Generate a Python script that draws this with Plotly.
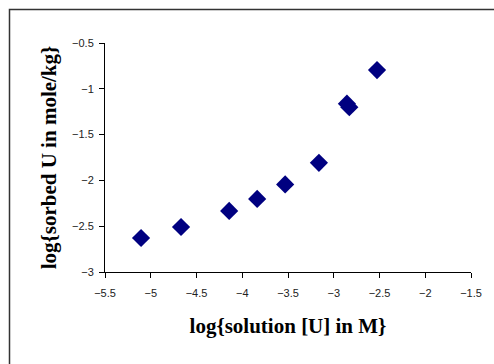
import plotly.graph_objects as go

log_solution = [-5.106, -4.669, -4.143, -3.837, -3.531, -3.162, -2.856, -2.830, -2.527]
log_sorbed = [-2.629, -2.509, -2.333, -2.202, -2.044, -1.808, -1.162, -1.201, -0.796]
x_ticks = [-5.5, -5, -4.5, -4, -3.5, -3, -2.5, -2, -1.5]
y_ticks = [-3, -2.5, -2, -1.5, -1, -0.5]

fig = go.Figure()
fig.add_trace(go.Scatter(
    x=log_solution, y=log_sorbed, mode="markers",
    marker=dict(symbol="diamond", size=14, color="#000080", line=dict(width=0)),
    showlegend=False,
))

tickfont = dict(family="Liberation Sans, Arial", size=11, color="#222222")
titlefont = dict(family="Liberation Serif, Times New Roman", size=21, color="#000000")

fig.update_layout(
    width=494, height=364,
    margin=dict(l=105, r=23, t=43, b=92),
    paper_bgcolor="white", plot_bgcolor="white",
    xaxis=dict(
        range=[-5.5, -1.5], tickvals=x_ticks,
        ticktext=[str(v).replace("-", "\u2212") for v in x_ticks],
        showgrid=False, zeroline=False, showline=True, linecolor="#000000", linewidth=1,
        ticks="outside", ticklen=5, tickcolor="#000000", tickfont=tickfont,
        ticklabelstandoff=6,
        title=dict(text="<b>log{solution [U] in M}</b>", font=titlefont, standoff=20),
    ),
    yaxis=dict(
        range=[-3, -0.5], tickvals=y_ticks,
        ticktext=[str(v).replace("-", "\u2212") for v in y_ticks],
        showgrid=False, zeroline=False, showline=True, linecolor="#000000", linewidth=1,
        ticks="outside", ticklen=5, tickcolor="#000000", tickfont=tickfont,
        ticklabelstandoff=3,
        title=dict(text="<b>log{sorbed U in mole/kg}</b>", font=titlefont, standoff=9),
    ),
    shapes=[dict(
        type="rect", xref="paper", yref="paper",
        x0=(9.5 - 105) / 366, x1=1.3, y0=-0.6, y1=1 + (43 - 9.5) / 229,
        line=dict(color="#333333", width=1.5), fillcolor="rgba(0,0,0,0)", layer="below",
    )],
)

fig.write_html("out.html")
